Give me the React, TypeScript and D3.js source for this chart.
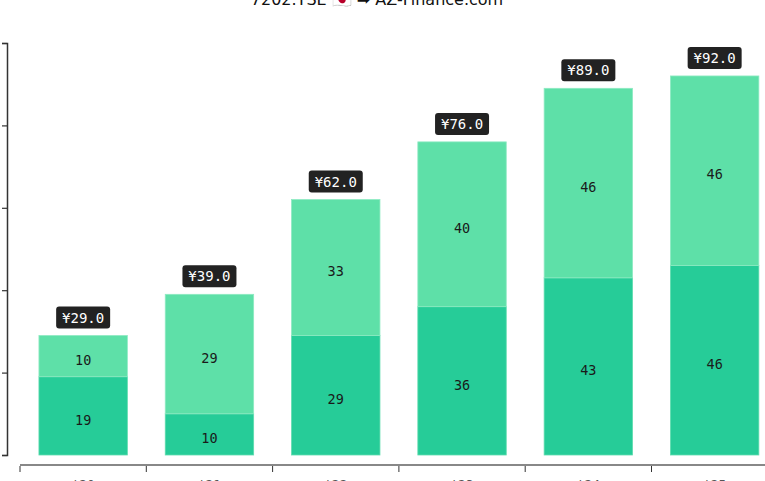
import React, { useEffect, useRef } from 'react';
import * as d3 from 'd3';

const years = ["'20", "'21", "'22", "'23", "'24", "'25"];
const lowerValues = [19, 10, 29, 36, 43, 46];
const upperValues = [10, 29, 33, 40, 46, 46];
const yTicks = [0, 20, 40, 60, 80, 100];
const title = '7202.TSE 🇯🇵 ➡ AZ-Finance.com';

const width = 765;
const height = 481;
const mono = "'DejaVu Sans Mono', monospace";

const App: React.FC = () => {
  const ref = useRef<SVGSVGElement>(null);

  useEffect(() => {
    if (!ref.current) return;
    const svg = d3.select(ref.current);
    svg.selectAll('*').remove();

    const step = 126.3;
    const x = d3
      .scaleBand<string>()
      .domain(years)
      .range([20, 20 + step * years.length])
      .paddingInner(0.3)
      .paddingOuter(0.15);
    const y = d3.scaleLinear().domain([0, 100]).range([455, 43]);

    const rows = years.map((year, i) => ({
      year,
      lower: lowerValues[i],
      upper: upperValues[i],
      total: lowerValues[i] + upperValues[i],
    }));

    // title, cut at the top edge like the source
    svg
      .append('text')
      .attr('x', 377)
      .attr('y', 5)
      .attr('text-anchor', 'middle')
      .attr('font-family', "'DejaVu Sans', sans-serif")
      .attr('font-size', 16)
      .attr('fill', '#111')
      .text(title);

    // y axis (labels fall outside the frame)
    const yAxis = svg
      .append('g')
      .attr('transform', 'translate(7,0)')
      .call(d3.axisLeft(y).tickValues(yTicks).tickSize(5).tickFormat(() => ''));
    yAxis.select('.domain').attr('stroke', '#333').attr('stroke-width', 1.5);
    yAxis.selectAll('.tick line').attr('stroke', '#333').attr('stroke-width', 1.2);

    // x axis
    const xg = svg.append('g').attr('transform', 'translate(0,465)');
    xg.append('line')
      .attr('x1', 20)
      .attr('x2', width)
      .attr('stroke', '#888')
      .attr('stroke-width', 2);
    xg.selectAll('.xtick')
      .data(years)
      .enter()
      .append('line')
      .attr('x1', (d) => (x(d) || 0) - x.step() * 0.15)
      .attr('x2', (d) => (x(d) || 0) - x.step() * 0.15)
      .attr('y1', 1)
      .attr('y2', 7)
      .attr('stroke', '#333')
      .attr('stroke-width', 1);
    xg.selectAll('.xlabel')
      .data(years)
      .enter()
      .append('text')
      .attr('x', (d) => (x(d) || 0) + x.bandwidth() / 2)
      .attr('y', 24)
      .attr('text-anchor', 'middle')
      .attr('font-family', mono)
      .attr('font-size', 13)
      .attr('fill', '#555')
      .text((d) => d);

    const bars = svg.append('g');
    bars
      .selectAll('.lower')
      .data(rows)
      .enter()
      .append('rect')
      .attr('x', (d) => x(d.year) || 0)
      .attr('y', (d) => y(d.lower))
      .attr('width', x.bandwidth())
      .attr('height', (d) => y(0) - y(d.lower))
      .attr('fill', '#26cc98')
      .attr('stroke', '#5fdcae')
      .attr('stroke-width', 0.8);
    bars
      .selectAll('.upper')
      .data(rows)
      .enter()
      .append('rect')
      .attr('x', (d) => x(d.year) || 0)
      .attr('y', (d) => y(d.total))
      .attr('width', x.bandwidth())
      .attr('height', (d) => y(d.lower) - y(d.total))
      .attr('fill', '#5ee0a8')
      .attr('stroke', '#8eeac2')
      .attr('stroke-width', 0.8);

    const segLabel = (cls: string, getY: (d: any) => number, getText: (d: any) => string) =>
      bars
        .selectAll(cls)
        .data(rows)
        .enter()
        .append('text')
        .attr('x', (d) => (x(d.year) || 0) + x.bandwidth() / 2)
        .attr('y', getY)
        .attr('dy', '0.65em')
        .attr('text-anchor', 'middle')
        .attr('font-family', mono)
        .attr('font-size', 13.5)
        .attr('fill', '#1a1a1a')
        .text(getText);

    segLabel('.lowerLabel', (d) => (y(0) + y(d.lower)) / 2, (d) => String(d.lower));
    segLabel('.upperLabel', (d) => (y(d.lower) + y(d.total)) / 2, (d) => String(d.upper));

    // total badges
    const badge = bars
      .selectAll('.badge')
      .data(rows)
      .enter()
      .append('g')
      .attr(
        'transform',
        (d) => `translate(${(x(d.year) || 0) + x.bandwidth() / 2},${y(d.total) - 18})`,
      );
    badge
      .append('rect')
      .attr('x', -27)
      .attr('y', -11)
      .attr('width', 54)
      .attr('height', 22)
      .attr('rx', 3)
      .attr('fill', '#222');
    badge
      .append('text')
      .attr('dy', '0.36em')
      .attr('text-anchor', 'middle')
      .attr('font-family', mono)
      .attr('font-size', 14)
      .attr('fill', '#fff')
      .text((d) => `¥${d.total.toFixed(1)}`);
  }, []);

  return (
    <svg
      ref={ref}
      width={width}
      height={height}
      style={{ position: 'absolute', left: 0, top: 0, background: '#fff' }}
    />
  );
};

export default App;
